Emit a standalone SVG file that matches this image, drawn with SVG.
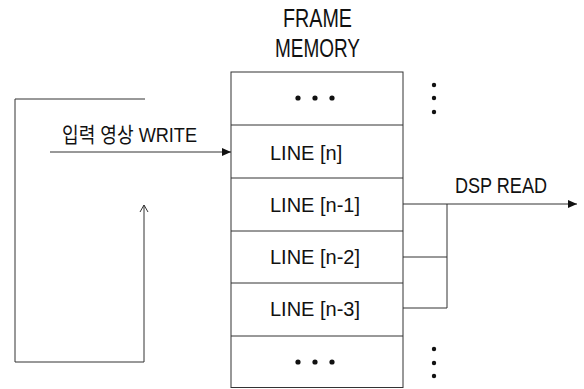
<svg xmlns="http://www.w3.org/2000/svg" width="584" height="389" viewBox="0 0 584 389">
<style>
.ln{fill:none;stroke:#333;stroke-width:1}
.t{font-family:"Liberation Sans","Noto Sans CJK KR",sans-serif;fill:#111}
.row{font-size:20px}
.dot{fill:#111}
</style>
<defs>
<marker id="fa" markerWidth="10" markerHeight="8" refX="9" refY="4" orient="auto" markerUnits="userSpaceOnUse">
<path d="M0,0 L9,4 L0,8 Z" fill="#111"/>
</marker>
<marker id="oa" markerWidth="10" markerHeight="10" refX="7" refY="5" orient="auto" markerUnits="userSpaceOnUse">
<path d="M0,1 L7,5 L0,9" fill="none" stroke="#333" stroke-width="1"/>
</marker>
</defs>
<rect width="584" height="389" fill="#fff"/>
<g id="title">
<text class="t" x="283" y="27" font-size="25" textLength="69" lengthAdjust="spacingAndGlyphs">FRAME</text>
<text class="t" x="275" y="57" font-size="25" textLength="85" lengthAdjust="spacingAndGlyphs">MEMORY</text>
</g>
<g id="frame-memory">
<rect class="ln" x="231" y="72" width="172" height="315.5"/>
<g id="row-top">
<circle class="dot" cx="298" cy="98" r="2.6"/><circle class="dot" cx="315" cy="98" r="2.6"/><circle class="dot" cx="332" cy="98" r="2.6"/>
</g>
<g id="row-n">
<line class="ln" x1="231" y1="125" x2="403" y2="125"/>
<text class="t row" x="270" y="160">LINE [n]</text>
</g>
<g id="row-n1">
<line class="ln" x1="231" y1="178" x2="403" y2="178"/>
<text class="t row" x="270" y="212">LINE [n-1]</text>
</g>
<g id="row-n2">
<line class="ln" x1="231" y1="231" x2="403" y2="231"/>
<text class="t row" x="270" y="264">LINE [n-2]</text>
</g>
<g id="row-n3">
<line class="ln" x1="231" y1="283" x2="403" y2="283"/>
<text class="t row" x="270" y="316">LINE [n-3]</text>
</g>
<g id="row-bottom">
<line class="ln" x1="231" y1="336" x2="403" y2="336"/>
<circle class="dot" cx="298" cy="362" r="2.6"/><circle class="dot" cx="315" cy="362" r="2.6"/><circle class="dot" cx="332" cy="362" r="2.6"/>
</g>
</g>
<g id="vdots-top">
<circle class="dot" cx="434" cy="85" r="2.2"/><circle class="dot" cx="434" cy="98" r="2.2"/><circle class="dot" cx="434" cy="112" r="2.2"/>
</g>
<g id="vdots-bottom">
<circle class="dot" cx="434" cy="349" r="2.2"/><circle class="dot" cx="434" cy="363" r="2.2"/><circle class="dot" cx="434" cy="376" r="2.2"/>
</g>
<g id="write-label">
<text class="t" x="62" y="142" font-size="21" textLength="135" lengthAdjust="spacingAndGlyphs">입력 영상 WRITE</text>
</g>
<g id="read-label">
<text class="t" x="455" y="193" font-size="22" textLength="92" lengthAdjust="spacingAndGlyphs">DSP READ</text>
</g>
<g id="connectors">
<line class="ln" x1="50" y1="152" x2="231" y2="152" marker-end="url(#fa)"/>
<polyline class="ln" points="145,99 15,99 15,362 144,362 144,205" marker-end="url(#oa)"/>
<line class="ln" x1="403" y1="204" x2="577" y2="204" marker-end="url(#fa)"/>
<polyline class="ln" points="403,257 447,257"/>
<polyline class="ln" points="403,308 447,308 447,204"/>
</g>
</svg>
